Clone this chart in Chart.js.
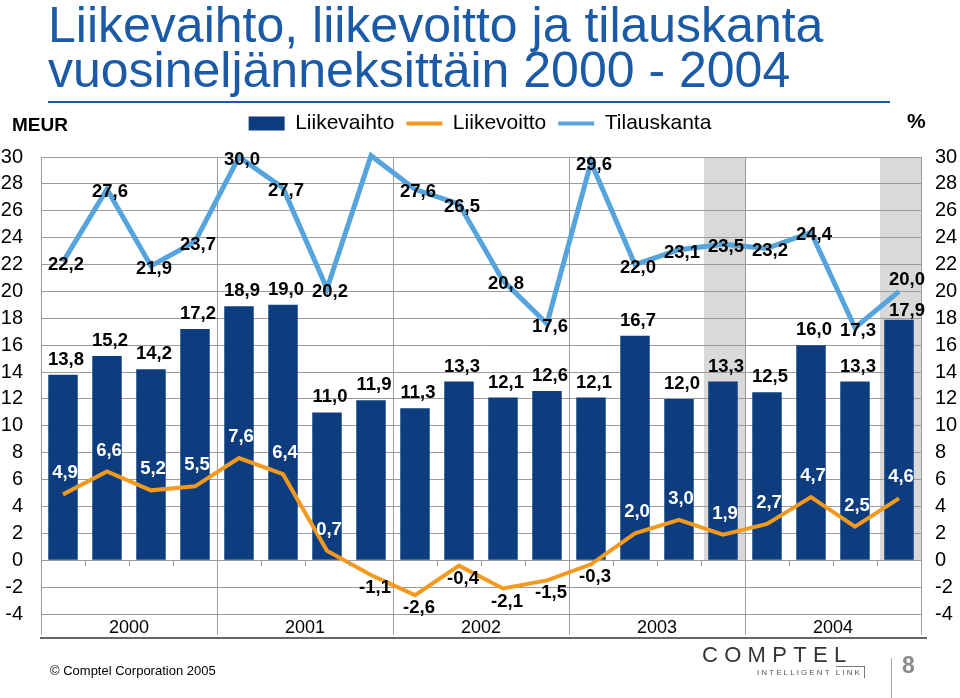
<!DOCTYPE html>
<html><head><meta charset="utf-8">
<script src="https://cdn.jsdelivr.net/npm/chart.js@4.4.1/dist/chart.umd.min.js"></script>
<style>
html,body{margin:0;padding:0;background:#fff;width:960px;height:698px;overflow:hidden;font-family:"Liberation Sans",Arial,Helvetica,sans-serif;}
#c{position:absolute;left:0;top:0;}
.t{position:absolute;white-space:nowrap;}
</style></head><body>
<canvas id="c" width="960" height="698"></canvas>
<div class="t" style="left:48px;top:3px;font-size:50px;line-height:45px;color:#1a5aa6;">Liikevaihto, liikevoitto ja tilauskanta<br>vuosineljänneksittäin 2000 - 2004</div>
<div class="t" style="left:48px;top:101px;width:842px;height:2px;background:#1a5aa6;"></div>
<div class="t" style="left:12px;top:115px;font-size:19px;line-height:20px;font-weight:bold;color:#000;">MEUR</div>
<div class="t" style="left:907px;top:110px;font-size:21px;line-height:22px;font-weight:bold;color:#000;">%</div>
<div class="t" style="left:50px;top:663px;font-size:13px;line-height:16px;color:#000;">© Comptel Corporation 2005</div>
<div class="t" style="left:702px;top:643px;font-size:22px;line-height:24px;letter-spacing:6.3px;color:#333;">COMPTEL</div>
<div class="t" style="left:757px;top:668px;font-size:8px;line-height:10px;letter-spacing:2.1px;color:#555;">INTELLIGENT <span style="border-top:1px solid #777;border-right:1px solid #777;padding:1px 2px 1px 0;">LINK</span></div>
<div class="t" style="left:891px;top:658px;width:1px;height:40px;background:#aaa;"></div>
<div class="t" style="left:902px;top:652px;font-size:23px;line-height:26px;font-weight:bold;color:#8a8a8a;">8</div>
<script>
const years = ['2000', '2001', '2002', '2003', '2004'];
const quarters = ['I', 'II', 'III', 'IV'];
const liikevaihto = [13.8, 15.2, 14.2, 17.2, 18.9, 19.0, 11.0, 11.9, 11.3, 13.3, 12.1, 12.6, 12.1, 16.7, 12.0, 13.3, 12.5, 16.0, 13.3, 17.9];
const liikevoitto = [4.9, 6.6, 5.2, 5.5, 7.6, 6.4, 0.7, -1.1, -2.6, -0.4, -2.1, -1.5, -0.3, 2.0, 3.0, 1.9, 2.7, 4.7, 2.5, 4.6];
const tilauskanta = [22.2, 27.6, 21.9, 23.7, 30.0, 27.7, 20.2, 30.1, 27.6, 26.5, 20.8, 17.6, 29.6, 22.0, 23.1, 23.5, 23.2, 24.4, 17.3, 20.0];
const tilauskantaUnlabeled = ['IV/2001'];
const highlighted = ['IV/2003', 'IV/2004'];
const yTicksMin = -4, yTicksMax = 30, yTicksStep = 2;

const labels = [];
years.forEach(y => quarters.forEach(q => labels.push(q + '/' + y)));
const fmt = v => v.toFixed(1).replace('.', ',');

const FONT = '"Liberation Sans", Arial, Helvetica, sans-serif';
const GRID = '#9c9c9c';

const decor = {
  id: 'decor',
  beforeInit(chart) {
    const lg = chart.legend;
    if (lg) {
      const f = lg.fit.bind(lg);
      lg.fit = function () { f(); this.height = 56; };
    }
  },
  beforeDraw(chart) {
    const {ctx, scales: {x, y}} = chart;
    const half = (x.getPixelForValue(1) - x.getPixelForValue(0)) / 2;
    ctx.save();
    ctx.fillStyle = '#d9d9d9';
    highlighted.forEach(lbl => {
      const i = labels.indexOf(lbl);
      const cx = x.getPixelForValue(i);
      const top = y.getPixelForValue(yTicksMax), zero = y.getPixelForValue(0);
      ctx.fillRect(cx - half + 3, top, 2 * half - 3, zero - top);
    });
    ctx.restore();
  },
  afterDraw(chart) {
    const {ctx, chartArea: a, scales: {x, y}} = chart;
    const half = (x.getPixelForValue(1) - x.getPixelForValue(0)) / 2;
    const zero = y.getPixelForValue(0);
    ctx.save();
    ctx.strokeStyle = GRID; ctx.lineWidth = 1;
    for (let i = 0; i <= labels.length; i++) {
      const bx = Math.round(x.getPixelForValue(0) - half + i * 2 * half) + 0.5;
      ctx.beginPath(); ctx.moveTo(bx, zero); ctx.lineTo(bx, zero + 6); ctx.stroke();
      if (i % 4 === 0) {
        ctx.beginPath(); ctx.moveTo(bx, a.bottom); ctx.lineTo(bx, a.bottom + 21); ctx.stroke();
      }
    }
    ctx.strokeStyle = '#666'; ctx.lineWidth = 2;
    ctx.beginPath(); ctx.moveTo(a.left - 1, a.bottom + 24); ctx.lineTo(a.right + 6, a.bottom + 24); ctx.stroke();
    ctx.restore();
  },
  afterDatasetsDraw(chart) {
    const ctx = chart.ctx;
    ctx.save();
    ctx.font = 'bold 18.5px ' + FONT;
    ctx.textAlign = 'center'; ctx.textBaseline = 'middle';
    const put = (t, px, py, col) => { ctx.fillStyle = col; ctx.fillText(t, px, py); };
    chart.getDatasetMeta(0).data.forEach((el, i) => {
      const o = i === labels.length - 1 ? [8, -9] : [3, -15];
      put(fmt(liikevaihto[i]), el.x + o[0], el.y + o[1], '#000');
    });
    chart.getDatasetMeta(1).data.forEach((el, i) => {
      const v = liikevoitto[i];
      if (v >= 0) put(fmt(v), el.x + 2, el.y - 21, '#fff');
      else put(fmt(v), el.x + 4, el.y + 13, '#000');
    });
    chart.getDatasetMeta(2).data.forEach((el, i) => {
      if (tilauskantaUnlabeled.includes(labels[i])) return;
      const o = i === labels.length - 1 ? [8, -12] : [3, 3];
      put(fmt(tilauskanta[i]), el.x + o[0], el.y + o[1], '#000');
    });
    ctx.restore();
  }
};

Chart.defaults.font.family = FONT;
Chart.defaults.color = '#000';

new Chart(document.getElementById('c'), {
  type: 'bar',
  data: {
    labels: labels,
    datasets: [
      { type: 'bar', label: 'Liikevaihto', data: liikevaihto, backgroundColor: '#0d3d7e', borderWidth: 0,
        barPercentage: 0.67, categoryPercentage: 1, order: 1, yAxisID: 'y' },
      { type: 'line', label: 'Liikevoitto', data: liikevoitto, borderColor: '#f39a1e', backgroundColor: '#f39a1e',
        borderWidth: 4, pointRadius: 0, tension: 0, order: 0, clip: false, yAxisID: 'y2' },
      { type: 'line', label: 'Tilauskanta', data: tilauskanta, borderColor: '#55a4dd', backgroundColor: '#55a4dd',
        borderWidth: 5, pointRadius: 0, tension: 0, order: 0, clip: false, yAxisID: 'y' }
    ]
  },
  options: {
    responsive: false,
    animation: false,
    devicePixelRatio: 1,
    layout: { padding: { top: 101, left: 0, right: 0, bottom: 61 } },
    plugins: {
      tooltip: { enabled: false },
      legend: {
        position: 'top',
        labels: {
          font: { size: 21 },
          color: '#000',
          usePointStyle: true,
          pointStyleWidth: 36,
          boxWidth: 36,
          boxHeight: 14,
          padding: 12,
          generateLabels: (chart) => chart.data.datasets.map((ds, i) => ({
            text: ds.label,
            datasetIndex: i,
            fillStyle: ds.type === 'line' ? ds.borderColor : ds.backgroundColor,
            strokeStyle: ds.type === 'line' ? ds.borderColor : ds.backgroundColor,
            lineWidth: ds.type === 'line' ? 4 : 0,
            pointStyle: ds.type === 'line' ? 'line' : 'rect',
            hidden: false,
            fontColor: '#000'
          }))
        }
      }
    },
    scales: {
      x: {
        offset: true,
        afterFit: (s) => { s.height = 23; },
        grid: {
          offset: true,
          drawTicks: false,
          color: (c) => (c.index === undefined || c.index % 4 === 0) ? GRID : 'rgba(0,0,0,0)',
          lineWidth: 1
        },
        border: { display: true, color: GRID },
        ticks: {
          autoSkip: false, maxRotation: 0, minRotation: 0, padding: 3,
          labelOffset: 22,
          font: { size: 18 }, color: '#000',
          callback: (v, i) => (i % 4 === 1 ? labels[i].split('/')[1] : '')
        }
      },
      y: {
        position: 'left',
        min: yTicksMin, max: yTicksMax,
        afterFit: (s) => { s.width = 41; },
        grid: { color: GRID, drawTicks: false, lineWidth: 1 },
        border: { display: true, color: GRID },
        ticks: { stepSize: yTicksStep, autoSkip: false, padding: 18, font: { size: 20 }, color: '#000' }
      },
      y2: {
        position: 'right',
        min: yTicksMin, max: yTicksMax,
        afterFit: (s) => { s.width = 39; },
        grid: { drawOnChartArea: false, drawTicks: false },
        border: { display: true, color: GRID },
        ticks: { stepSize: yTicksStep, autoSkip: false, padding: 14, font: { size: 20 }, color: '#000' }
      }
    }
  },
  plugins: [decor]
});
</script>
</body></html>
